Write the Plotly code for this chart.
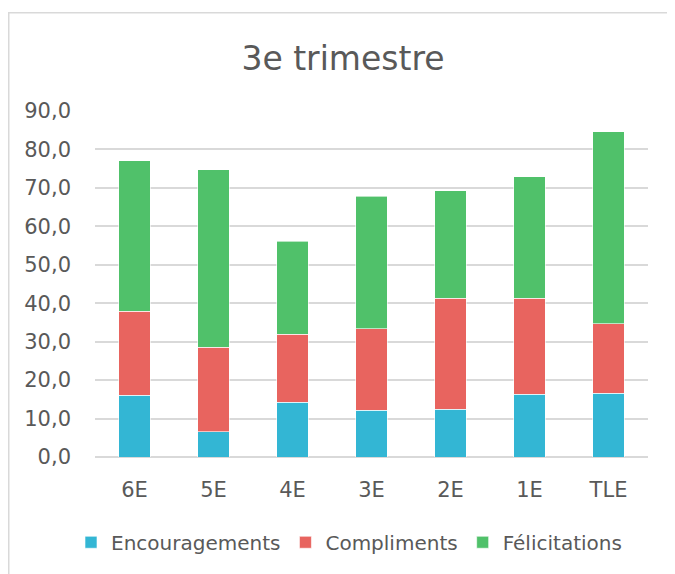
import plotly.graph_objects as go

categories = ["6E", "5E", "4E", "3E", "2E", "1E", "TLE"]
encouragements = [16.0, 6.6, 14.2, 12.2, 12.4, 16.3, 16.6]
compliments = [21.9, 21.9, 17.7, 21.1, 28.9, 25.0, 18.0]
felicitations = [39.1, 46.2, 24.2, 34.5, 27.9, 31.6, 50.0]
series_names = ["Encouragements", "Compliments", "Félicitations"]
colors = ["#33B6D4", "#E8645F", "#50C16A"]

# the page body has an 8px margin, so the figure is drawn 8px right/down
OFF = 8
W, H = 675 - OFF, 574 - OFF
ML, MR, MT, MB = 95 - OFF, W - (648 - OFF), 111 - OFF, H - (460 - OFF)
pw, ph = W - ML - MR, H - MT - MB

fig = go.Figure()
for name, vals, col in zip(series_names, [encouragements, compliments, felicitations], colors):
    fig.add_trace(go.Bar(
        x=categories, y=vals, name=name,
        marker=dict(color=col, line=dict(color="rgba(255,255,255,0.6)", width=1)),
    ))

# outer chart border
fig.add_shape(type="rect", xref="paper", yref="paper",
              x0=(0.75 - ML) / pw, x1=(W + 10 - ML) / pw,
              y0=(H - MB - (H + 10)) / ph, y1=(H - MB - (12 - OFF)) / ph,
              line=dict(color="#d9d9d9", width=1.5), fillcolor="rgba(0,0,0,0)", layer="below")

fig.update_layout(
    width=W, height=H,
    margin=dict(l=ML, r=MR, t=MT, b=MB, pad=0),
    barmode="stack", bargap=0.6,
    separators=", ",
    paper_bgcolor="white", plot_bgcolor="white",
    font=dict(family="DejaVu Sans", size=21, color="#595959"),
    title=dict(text="3e trimestre", x=(343 - OFF - ML) / pw, xref="paper", xanchor="center",
               y=1 - (58 - OFF) / H, yanchor="middle",
               font=dict(family="DejaVu Sans", size=33, color="#595959")),
    yaxis=dict(range=[0, 90], dtick=10, tickformat=".1f", showgrid=True,
               gridcolor="#d9d9d9", gridwidth=1.5, zeroline=True, zerolinecolor="#d9d9d9",
               zerolinewidth=1.5, showline=False, ticks="", ticklen=0, ticklabelstandoff=23,
               tickfont=dict(size=21, color="#595959"), fixedrange=True),
    xaxis=dict(showgrid=False, showline=False, ticks="", ticklabelstandoff=18,
               tickfont=dict(size=21, color="#595959"), fixedrange=True),
    legend=dict(orientation="h", x=(349 - OFF - ML) / pw, xanchor="center",
                y=-(546 - 460) / ph, yanchor="middle", font=dict(size=20, color="#595959"),
                itemwidth=30, traceorder="normal", bgcolor="rgba(0,0,0,0)"),
    showlegend=True,
)

fig.write_html("out.html")
